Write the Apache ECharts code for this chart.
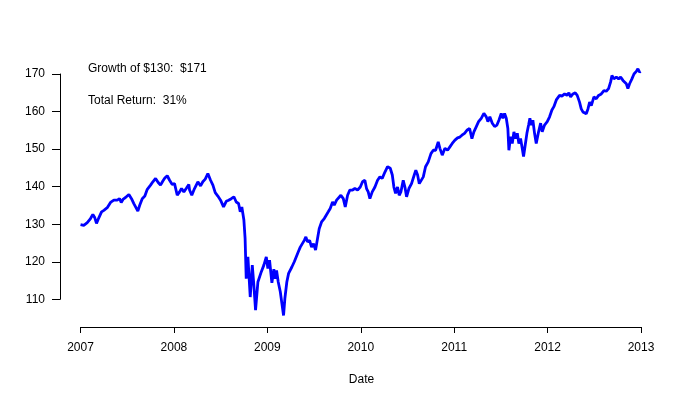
<!DOCTYPE html>
<html>
<head>
<meta charset="utf-8">
<script src="https://cdn.jsdelivr.net/npm/echarts@6/dist/echarts.min.js"></script>
<style>html,body{margin:0;padding:0;background:#fff}#c{width:693px;height:400px}</style>
</head>
<body>
<div id="c"></div>
<script>
// Decimal-year dates
const dates = [
2007.000,2007.035,2007.072,2007.107,2007.132,2007.153,2007.171,2007.196,2007.225,2007.250,
2007.286,2007.321,2007.357,2007.393,2007.418,2007.436,2007.458,2007.482,2007.518,2007.546,
2007.571,2007.589,2007.614,2007.635,2007.661,2007.689,2007.715,2007.750,2007.775,2007.804,
2007.832,2007.857,2007.882,2007.903,2007.929,2007.954,2007.982,2008.007,2008.036,2008.061,
2008.082,2008.107,2008.132,2008.160,2008.168,2008.192,2008.221,2008.257,2008.286,2008.310,
2008.336,2008.364,2008.393,2008.418,2008.443,2008.471,2008.500,2008.532,2008.561,2008.586,
2008.615,2008.643,2008.668,2008.693,2008.711,2008.728,2008.750,2008.763,2008.775,2008.793,
2008.818,2008.840,2008.857,2008.875,2008.900,2008.936,2008.964,2008.990,2009.007,2009.025,
2009.050,2009.071,2009.082,2009.100,2009.118,2009.140,2009.157,2009.175,2009.189,2009.210,
2009.229,2009.247,2009.264,2009.290,2009.311,2009.332,2009.354,2009.375,2009.397,2009.414,
2009.432,2009.454,2009.475,2009.496,2009.518,2009.539,2009.557,2009.582,2009.611,2009.632,
2009.654,2009.675,2009.700,2009.718,2009.743,2009.764,2009.789,2009.815,2009.836,2009.861,
2009.885,2009.914,2009.939,2009.968,2009.997,2010.021,2010.046,2010.064,2010.082,2010.100,
2010.125,2010.154,2010.182,2010.207,2010.232,2010.261,2010.289,2010.318,2010.340,2010.357,
2010.375,2010.396,2010.414,2010.432,2010.457,2010.475,2010.493,2010.518,2010.546,2010.575,
2010.592,2010.611,2010.629,2010.646,2010.672,2010.696,2010.725,2010.754,2010.779,2010.804,
2010.832,2010.850,2010.875,2010.904,2010.932,2010.957,2010.982,2011.011,2011.039,2011.064,
2011.086,2011.114,2011.143,2011.168,2011.193,2011.214,2011.240,2011.264,2011.293,2011.321,
2011.347,2011.364,2011.385,2011.411,2011.436,2011.461,2011.482,2011.507,2011.525,2011.543,
2011.561,2011.578,2011.589,2011.607,2011.625,2011.643,2011.661,2011.679,2011.696,2011.714,
2011.732,2011.746,2011.764,2011.782,2011.800,2011.814,2011.829,2011.846,2011.864,2011.882,
2011.907,2011.929,2011.946,2011.971,2012.000,2012.025,2012.050,2012.071,2012.097,2012.132,
2012.157,2012.186,2012.211,2012.232,2012.250,2012.275,2012.300,2012.321,2012.346,2012.364,
2012.382,2012.400,2012.418,2012.436,2012.454,2012.472,2012.500,2012.525,2012.550,2012.579,
2012.607,2012.632,2012.657,2012.679,2012.693,2012.714,2012.740,2012.764,2012.786,2012.811,
2012.829,2012.847,2012.864,2012.882,2012.907,2012.929,2012.954,2012.971,2012.989,2013.000
];
// Growth of $130 values
const values = [
129.9,129.7,130.4,131.5,132.6,131.7,130.2,131.7,133.3,133.7,
134.4,135.8,136.4,136.4,136.8,135.8,136.7,137.1,137.9,136.8,
135.5,135.9,133.5,135.1,136.8,137.5,139.3,140.4,141.3,142.2,
141.1,140.4,141.5,142.3,142.9,141.7,140.6,140.8,137.7,138.6,
139.5,138.6,139.5,140.6,139.1,137.7,139.5,141.3,140.2,141.3,
142.0,143.5,141.7,140.4,138.4,137.5,136.4,134.6,136.1,136.4,
136.8,137.3,135.9,135.5,133.3,134.6,131.1,126.2,115.5,121.3,
110.6,119.1,113.7,107.1,114.6,117.3,119.1,121.3,118.2,120.4,
114.4,118.0,115.5,117.7,114.6,112.0,108.9,105.7,110.2,114.6,
116.9,116.4,118.6,120.0,119.5,122.6,123.9,123.9,125.7,126.6,
125.3,125.7,123.9,124.8,123.1,126.2,128.8,130.6,131.5,132.4,
133.3,134.2,135.9,135.1,136.4,135.9,137.7,136.8,134.6,137.7,
139.1,139.1,139.5,139.1,139.9,141.3,141.7,139.5,138.6,136.8,
138.6,139.9,141.7,142.6,142.2,143.9,145.3,144.9,143.1,139.9,
138.2,139.9,137.7,138.6,141.7,139.9,137.3,139.5,140.8,143.1,
144.4,143.1,140.8,140.4,142.6,145.3,146.6,148.8,149.7,149.7,
151.9,150.2,148.4,150.2,149.7,150.6,151.5,152.4,153.0,153.2,
153.7,154.2,155.1,155.5,152.8,154.6,156.0,157.3,158.2,159.5,
158.6,157.3,158.6,156.9,156.0,156.4,157.7,159.5,158.2,159.5,
158.2,155.5,149.7,153.3,151.5,154.6,152.8,154.2,151.5,152.8,
150.2,148.0,151.1,154.2,156.4,158.2,156.4,157.7,154.2,151.5,
154.6,156.9,154.6,156.4,157.3,158.6,160.4,161.3,163.1,164.3,
164.1,164.7,164.3,165.0,163.9,164.7,165.0,164.3,162.5,160.7,
159.9,160.3,159.4,160.7,162.5,161.6,163.9,163.4,164.3,164.7,
165.6,165.4,166.1,167.9,169.6,168.7,169.2,168.7,169.2,168.3,
167.9,167.4,166.1,167.4,168.7,170.0,170.7,171.4,170.5,170.7
];
const yearTicks = [2007, 2008, 2009, 2010, 2011, 2012, 2013];
const valueTicks = [110, 120, 130, 140, 150, 160, 170];
const noteLines = ['Growth of $130:  $171', 'Total Return:  31%'];
const xLabel = 'Date';

const FONT = '"Liberation Sans", Arial, Helvetica, sans-serif';
const series = dates.map((d, i) => [d, values[i]]);

const chart = echarts.init(document.getElementById('c'), null, {renderer: 'canvas'});
const hidden = {show: false};
chart.setOption({
  animation: false,
  backgroundColor: '#ffffff',
  grid: [
    {left: 60, right: 30, top: 60, bottom: 73},
    {left: 80.5, right: 52, top: 60, bottom: 73},
    {left: 60, right: 30, top: 74, bottom: 100.7}
  ],
  xAxis: [
    {gridIndex: 0, type: 'value', min: 2006.78, max: 2013.24, axisLine: hidden, axisTick: hidden, axisLabel: hidden, splitLine: hidden},
    {gridIndex: 1, type: 'value', min: yearTicks[0], max: yearTicks[yearTicks.length - 1], interval: 1,
      axisLine: {show: true, onZero: false, lineStyle: {color: '#000', width: 1}},
      axisTick: {show: true, length: 6, lineStyle: {color: '#000', width: 1}},
      axisLabel: {show: true, margin: 15, color: '#000', fontSize: 12, fontFamily: FONT, formatter: v => String(v)},
      splitLine: hidden},
    {gridIndex: 2, type: 'value', min: 0, max: 1, axisLine: hidden, axisTick: hidden, axisLabel: hidden, splitLine: hidden}
  ],
  yAxis: [
    {gridIndex: 0, type: 'value', min: 102.62, max: 173.73, axisLine: hidden, axisTick: hidden, axisLabel: hidden, splitLine: hidden},
    {gridIndex: 1, type: 'value', min: 0, max: 1, axisLine: hidden, axisTick: hidden, axisLabel: hidden, splitLine: hidden},
    {gridIndex: 2, type: 'value', min: valueTicks[0], max: valueTicks[valueTicks.length - 1], interval: 10,
      axisLine: {show: true, onZero: false, lineStyle: {color: '#000', width: 1}},
      axisTick: {show: true, length: 8, lineStyle: {color: '#000', width: 1}},
      axisLabel: {show: true, margin: 15, color: '#000', fontSize: 12, fontFamily: FONT},
      splitLine: hidden}
  ],
  series: [
    {type: 'line', xAxisIndex: 0, yAxisIndex: 0, data: series, showSymbol: false, symbol: 'none',
      lineStyle: {color: '#0000ff', width: 2.8}, itemStyle: {color: '#0000ff'}, smooth: false},
    {type: 'line', xAxisIndex: 1, yAxisIndex: 1, data: [], symbol: 'none'},
    {type: 'line', xAxisIndex: 2, yAxisIndex: 2, data: [], symbol: 'none'}
  ],
  graphic: [
    {type: 'text', left: 88, top: 62.5, style: {text: noteLines[0], fill: '#000', font: '12px ' + FONT}},
    {type: 'text', left: 88, top: 95, style: {text: noteLines[1], fill: '#000', font: '12px ' + FONT}},
    {type: 'text', x: 361.5, y: 380, style: {text: xLabel, fill: '#000', font: '12px ' + FONT, align: 'center', verticalAlign: 'middle'}}
  ]
});
</script>
</body>
</html>
